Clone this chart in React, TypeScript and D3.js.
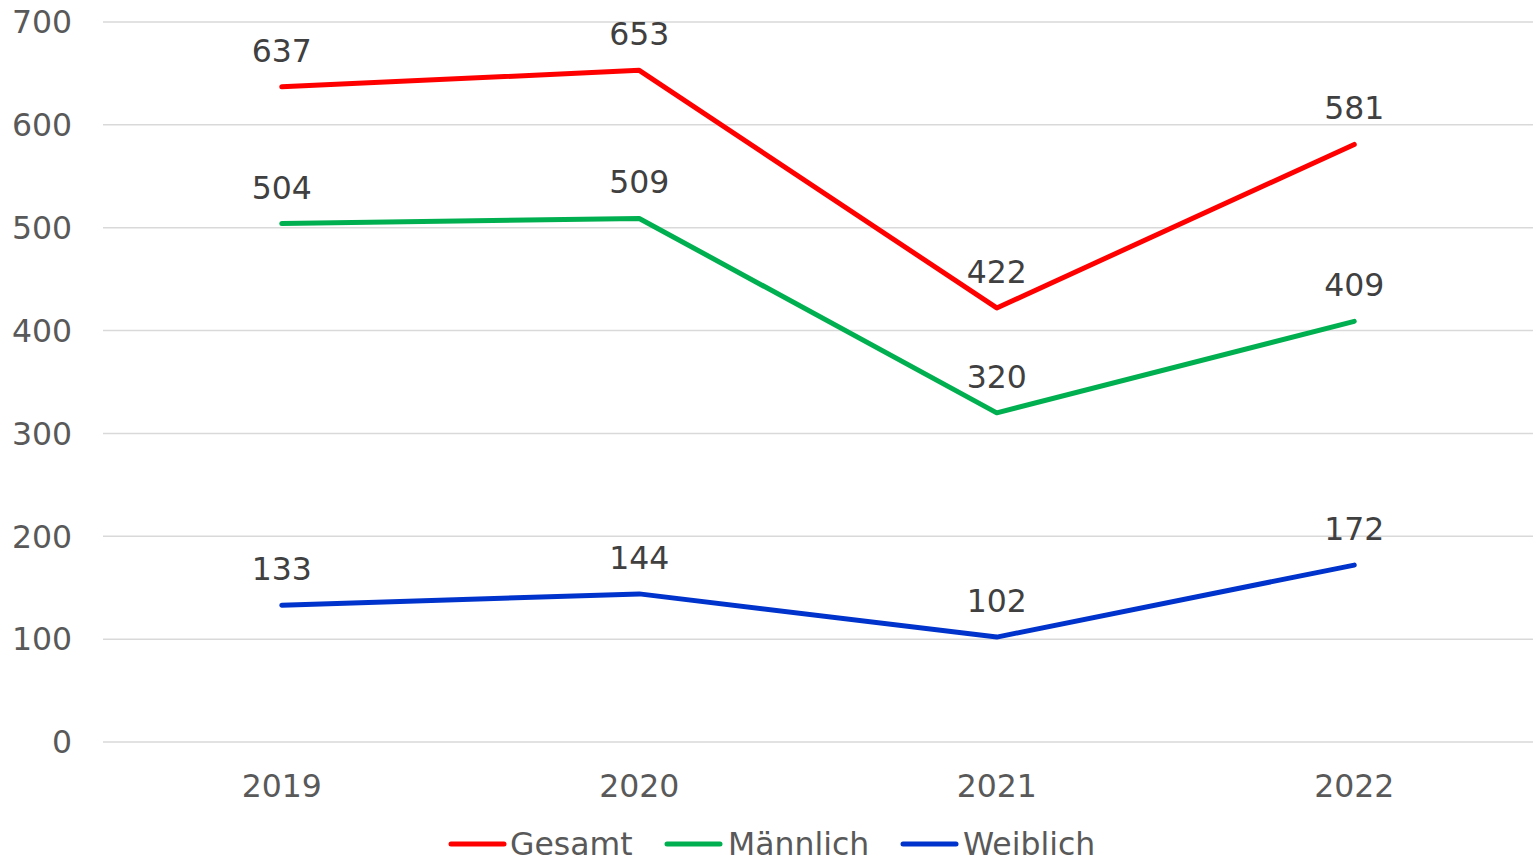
import React from "react";
import * as d3 from "d3";

const categories = ["2019", "2020", "2021", "2022"];
const gesamt = [637, 653, 422, 581];
const maennlich = [504, 509, 320, 409];
const weiblich = [133, 144, 102, 172];
const yTicks = [0, 100, 200, 300, 400, 500, 600, 700];

const seriesList = [
  { name: "Gesamt", values: gesamt, color: "#FF0000" },
  { name: "Männlich", values: maennlich, color: "#00B050" },
  { name: "Weiblich", values: weiblich, color: "#0033CC" },
];

const W = 1537;
const H = 860;
const FONT = "'DejaVu Sans', Verdana, sans-serif";
const FS = 31.5;

export default function App() {
  const x = d3.scaleBand<string>().domain(categories).range([103, 1533]);
  const y = d3.scaleLinear().domain([0, 700]).range([742, 22]);
  const cx = (c: string) => (x(c) as number) + x.bandwidth() / 2;
  const line = d3
    .line<number>()
    .x((_, i) => cx(categories[i]))
    .y((d) => y(d));

  const legendItems = [
    { lx: 451, tx: 510 },
    { lx: 667, tx: 728 },
    { lx: 903, tx: 963 },
  ];

  return (
    <svg
      width={W}
      height={H}
      style={{ position: "absolute", left: 0, top: 0, background: "#fff" }}
      fontFamily={FONT}
    >
      {yTicks.map((t) => (
        <g key={t}>
          <line x1={103} x2={1533} y1={y(t)} y2={y(t)} stroke="#D9D9D9" strokeWidth={1.5} />
          <text x={72} y={y(t)} dy="0.36em" textAnchor="end" fontSize={FS} fill="#595959">
            {t}
          </text>
        </g>
      ))}
      {categories.map((c) => (
        <text key={c} x={cx(c)} y={797} textAnchor="middle" fontSize={FS} fill="#595959">
          {c}
        </text>
      ))}
      {seriesList.map((s) => (
        <path
          key={s.name}
          d={line(s.values) || ""}
          fill="none"
          stroke={s.color}
          strokeWidth={5}
          strokeLinecap="round"
          strokeLinejoin="round"
        />
      ))}
      {seriesList.map((s) =>
        s.values.map((v, i) => (
          <text
            key={s.name + i}
            x={cx(categories[i])}
            y={y(v) - 25}
            textAnchor="middle"
            fontSize={FS}
            fill="#404040"
          >
            {v}
          </text>
        ))
      )}
      {seriesList.map((s, i) => (
        <g key={s.name}>
          <line
            x1={legendItems[i].lx}
            x2={legendItems[i].lx + 53}
            y1={844}
            y2={844}
            stroke={s.color}
            strokeWidth={5}
            strokeLinecap="round"
          />
          <text x={legendItems[i].tx} y={855} fontSize={FS} fill="#595959">
            {s.name}
          </text>
        </g>
      ))}
    </svg>
  );
}
